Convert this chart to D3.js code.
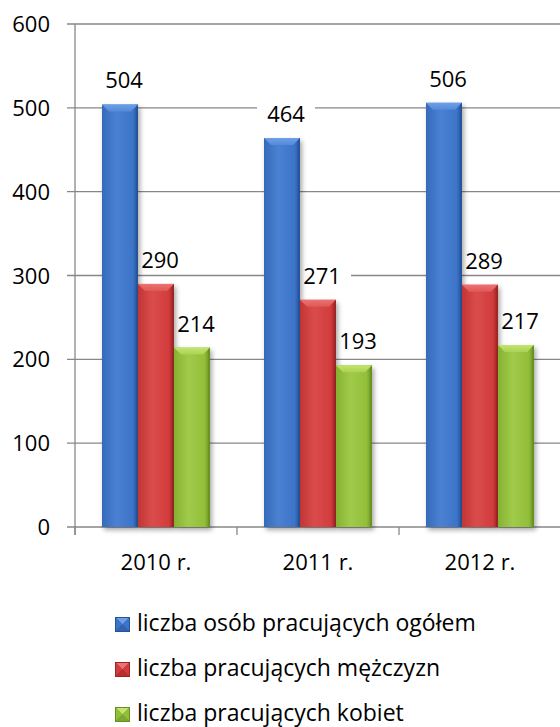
<!DOCTYPE html>
<html lang="pl">
<head>
<meta charset="UTF-8">
<title>Pracujący</title>
<script src="https://cdnjs.cloudflare.com/ajax/libs/d3/7.8.5/d3.min.js"></script>
<style>
  body { margin: 0; background: #fff; }
  text { font-family: "Open Sans", Lato, sans-serif; fill: #000; }
</style>
</head>
<body>
<div id="chart"></div>
<script>
    var years = ["2010 r.", "2011 r.", "2012 r."];
    var seriesNames = ["liczba osób pracujących ogółem", "liczba pracujących mężczyzn", "liczba pracujących kobiet"];
    var total = [504, 464, 506];
    var men = [290, 271, 289];
    var women = [214, 193, 217];
    var yTicks = [0, 100, 200, 300, 400, 500, 600];

    var width = 560, height = 727;
    var series = [total, men, women];
    // base, light, dark
    var palette = [
        ["#3c74c8", "#6e9fe8", "#24529a"],
        ["#d23c3c", "#ec7272", "#9c2424"],
        ["#92bf3a", "#c3e46e", "#66901f"]
    ];

    var svg = d3.select("#chart").append("svg")
        .attr("width", width)
        .attr("height", height);

    var defs = svg.append("defs");
    palette.forEach(function(c, i) {
        var g = defs.append("linearGradient").attr("id", "body" + i)
            .attr("x1", 0).attr("x2", 1).attr("y1", 0).attr("y2", 0);
        g.append("stop").attr("offset", "0%").attr("stop-color", d3.interpolateRgb(c[0], c[2])(0.3));
        g.append("stop").attr("offset", "40%").attr("stop-color", d3.interpolateRgb(c[0], c[1])(0.3));
        g.append("stop").attr("offset", "85%").attr("stop-color", c[0]);
        g.append("stop").attr("offset", "100%").attr("stop-color", c[2]);
        var t = defs.append("linearGradient").attr("id", "top" + i)
            .attr("x1", 0).attr("x2", 0).attr("y1", 0).attr("y2", 1);
        t.append("stop").attr("offset", "0%").attr("stop-color", c[1]);
        t.append("stop").attr("offset", "100%").attr("stop-color", d3.interpolateRgb(c[0], c[1])(0.5));
    });
    var shadow = defs.append("filter").attr("id", "shadow")
        .attr("x", "-20%").attr("y", "-5%").attr("width", "150%").attr("height", "115%");
    shadow.append("feDropShadow").attr("dx", 2).attr("dy", 3).attr("stdDeviation", 2.5)
        .attr("flood-color", "#000").attr("flood-opacity", 0.35);

    var y = d3.scaleLinear().domain([0, 600]).range([527, 24]);
    var x0 = d3.scaleBand().domain(years).range([75, 561]).paddingInner(0).paddingOuter(0);
    var x1 = d3.scaleBand().domain([0, 1, 2]).range([0, x0.bandwidth()]).paddingOuter(0.75);

    // gridlines + y axis ticks
    svg.append("g").selectAll("line").data(yTicks).enter().append("line")
        .attr("x1", 67).attr("x2", width)
        .attr("y1", function(d) { return y(d); }).attr("y2", function(d) { return y(d); })
        .attr("stroke", "#878787").attr("stroke-width", 1.3);

    svg.append("line").attr("x1", 75).attr("x2", 75).attr("y1", y(600)).attr("y2", 535)
        .attr("stroke", "#878787").attr("stroke-width", 1.3);

    // category ticks
    var catEdges = years.map(function(d) { return x0(d); }).concat([x0.range()[1]]);
    svg.append("g").selectAll("line").data(catEdges).enter().append("line")
        .attr("x1", function(d) { return d; }).attr("x2", function(d) { return d; })
        .attr("y1", y(0)).attr("y2", 535)
        .attr("stroke", "#878787").attr("stroke-width", 1.3);

    svg.append("g").selectAll("text").data(yTicks).enter().append("text")
        .attr("x", 50).attr("y", function(d) { return y(d) + 8; })
        .attr("text-anchor", "end").attr("font-size", 22)
        .text(function(d) { return d; });

    svg.append("g").selectAll("text").data(years).enter().append("text")
        .attr("x", function(d) { return x0(d) + x0.bandwidth() / 2; })
        .attr("y", 570).attr("text-anchor", "middle").attr("font-size", 22)
        .text(function(d) { return d; });

    var bars = [];
    years.forEach(function(yr, j) {
        series.forEach(function(s, i) {
            bars.push({ year: yr, s: i, v: s[j] });
        });
    });

    // label backgrounds first (they hide gridlines, not bars)
    var labelX = function(d) { return x0(d.year) + x1(d.s) + x1.bandwidth() / 2 + 4; };
    var labelY = function(d) { return y(d.v) - 16; };
    svg.append("g").selectAll("rect").data(bars).enter().append("rect")
        .attr("x", function(d) { return labelX(d) - 29; })
        .attr("y", function(d) { return labelY(d) - 18; })
        .attr("width", 58).attr("height", 21)
        .attr("fill", "#fff");

    var bw = x1.bandwidth(), bev = 7;
    var barG = svg.append("g").selectAll("g").data(bars).enter().append("g")
        .attr("transform", function(d) { return "translate(" + (x0(d.year) + x1(d.s)) + "," + y(d.v) + ")"; })
        .attr("filter", "url(#shadow)");

    barG.append("rect")
        .attr("width", bw)
        .attr("height", function(d) { return y(0) - y(d.v); })
        .attr("fill", function(d) { return "url(#body" + d.s + ")"; });
    barG.append("polygon")
        .attr("points", [[0, 0], [bw, 0], [bw - bev, bev], [bev, bev]].join(" "))
        .attr("fill", function(d) { return "url(#top" + d.s + ")"; });
    barG.append("polygon")
        .attr("points", function(d) {
            var h = y(0) - y(d.v);
            return [[bw, 0], [bw, h], [bw - 2, h], [bw - 2, 2]].join(" ");
        })
        .attr("fill", function(d) { return palette[d.s][2]; })
        .attr("opacity", 0.6);

    svg.append("g").selectAll("text").data(bars).enter().append("text")
        .attr("x", labelX).attr("y", labelY)
        .attr("text-anchor", "middle").attr("font-size", 22)
        .text(function(d) { return d.v; });

    // legend
    var leg = svg.append("g").selectAll("g").data(seriesNames).enter().append("g")
        .attr("transform", function(d, i) { return "translate(115," + (617 + i * 45) + ")"; });
    var m = 15;
    leg.append("polygon").attr("points", [[0, 0], [m, 0], [m, m], [0, m]].join(" "))
        .attr("fill", function(d, i) { return palette[i][2]; });
    leg.append("polygon").attr("points", [[1, 1], [m - 1, 1], [m / 2, m / 2]].join(" "))
        .attr("fill", function(d, i) { return palette[i][1]; });
    leg.append("polygon").attr("points", [[1, 1], [m / 2, m / 2], [1, m - 1]].join(" "))
        .attr("fill", function(d, i) { return palette[i][0]; });
    leg.append("polygon").attr("points", [[m - 1, 1], [m / 2, m / 2], [m - 1, m - 1]].join(" "))
        .attr("fill", function(d, i) { return palette[i][0]; });
    leg.append("polygon").attr("points", [[1, m - 1], [m / 2, m / 2], [m - 1, m - 1]].join(" "))
        .attr("fill", function(d, i) { return d3.interpolateRgb(palette[i][0], palette[i][2])(0.5); });
    leg.append("text").attr("x", 22).attr("y", 14).attr("font-size", 23)
        .text(function(d) { return d; });
</script>
</body>
</html>
